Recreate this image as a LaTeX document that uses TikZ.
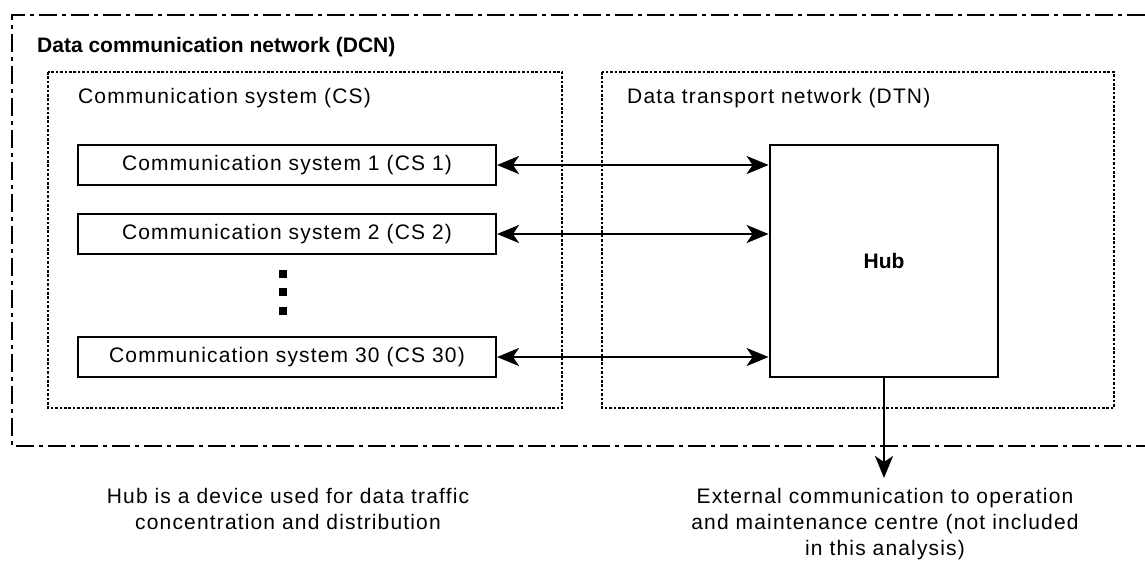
\documentclass[tikz,border=0pt]{standalone}
\usepackage{fontspec}
\setmainfont{Liberation Sans}[LetterSpace=5.5, BoldFeatures={LetterSpace=0}]
\usetikzlibrary{arrows.meta}

\begin{document}
\begin{tikzpicture}[x=1pt, y=-1pt,
>={Stealth[length=22pt, width=18pt, inset=6pt]},
font=\fontsize{21}{26}\selectfont,
frame/.style={line width=2.8pt, dash pattern=on 18pt off 5pt on 4pt off 5pt},
subnet/.style={line width=2.8pt, dash pattern=on 2.6pt off 1.8pt},
label/.style={inner sep=0pt},
csbox/.style={draw, line width=2pt, minimum width=418pt, minimum height=40pt, inner sep=0pt},
hubbox/.style={draw, line width=2.8pt, minimum width=228pt, minimum height=232pt, inner sep=0pt},
link/.style={<->, line width=2.6pt},
note/.style={align=center, anchor=north, inner sep=0pt}]

\useasboundingbox (0,0) rectangle (1145,563);

%%%%%%%% FRAMES %%%%%%%%%%%%%
\draw[frame] (1145,15) -- (12,15) -- (12,446) -- (1145,446);
\node[label, anchor=base west, font=\fontsize{21}{26}\selectfont\bfseries] (dcn) at (37,52) {Data communication network (DCN)};

\draw[subnet] (48,72) rectangle (562,408);
\node[label, anchor=base west] (cslab) at (78,103) {Communication system (CS)};

\draw[subnet] (602,72) rectangle (1114,408);
\node[label, anchor=base west] (dtnlab) at (627,103) {Data transport network (DTN)};
%%%%%%%%%%%%%%%%%%%%%%%%%%%

\node[hubbox, font=\fontsize{21}{26}\selectfont\bfseries] (hub) at (884,261) {Hub};

\foreach \i/\y in {1/165, 2/234, 30/357}{
  \node[csbox] (cs\i) at (287,\y) {Communication system \i\ (CS \i)};
  \draw[link] (cs\i.east) -- (cs\i.east -| hub.west);
}

\foreach \y in {274, 292, 311}{
  \fill (279,\y-4) rectangle (287,\y+4);
}

\coordinate (ext) at (hub.south |- 0,478);
\draw[->, line width=2.6pt] (hub.south) -- (ext);

\node[note] (hubnote) at (288,488) {Hub is a device used for data traffic\\concentration and distribution};
\node[note] (extnote) at (885,488) {External communication to operation\\and maintenance centre (not included\\in this analysis)};
\end{tikzpicture}
\end{document}
